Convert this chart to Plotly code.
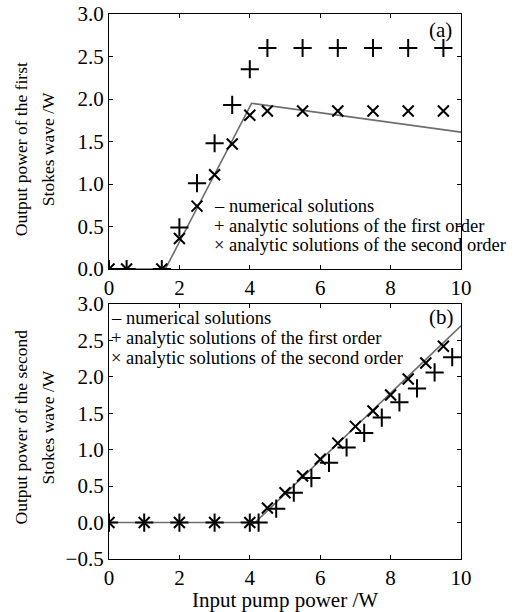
import plotly.graph_objects as go
from plotly.subplots import make_subplots

# Panel (a): first Stokes wave
a_num_x = [0, 1.6, 4.05, 10]
a_num_y = [0, 0, 1.95, 1.61]
a_first_x = [0, 0.5, 1.5, 2, 2.5, 3, 3.5, 4, 4.5, 5.5, 6.5, 7.5, 8.5, 9.5]
a_first_y = [0, 0, 0, 0.49, 1.01, 1.48, 1.93, 2.35, 2.6, 2.6, 2.6, 2.6, 2.6, 2.6]
a_second_x = [0, 0.5, 1.5, 2, 2.5, 3, 3.5, 4, 4.5, 5.5, 6.5, 7.5, 8.5, 9.5]
a_second_y = [0, 0, 0, 0.36, 0.74, 1.11, 1.47, 1.81, 1.86, 1.86, 1.86, 1.86, 1.86, 1.86]

# Panel (b): second Stokes wave
b_num_x = [0, 4.15, 10]
b_num_y = [0, 0, 2.70]
b_first_x = [0, 1, 2, 3, 4, 4.25, 4.75, 5.25, 5.75, 6.25, 6.75, 7.25, 7.75, 8.25, 8.75, 9.25, 9.75]
b_first_y = [0, 0, 0, 0, 0, 0, 0.19, 0.41, 0.61, 0.82, 1.03, 1.23, 1.44, 1.65, 1.84, 2.06, 2.27]
b_second_x = [0, 1, 2, 3, 4, 4.5, 5, 5.5, 6, 6.5, 7, 7.5, 8, 8.5, 9, 9.5]
b_second_y = [0, 0, 0, 0, 0, 0.2, 0.41, 0.64, 0.87, 1.09, 1.32, 1.53, 1.75, 1.97, 2.19, 2.42]

legend_lines = ["\u2013 numerical solutions",
                "+ analytic solutions of the first order",
                "\u00d7 analytic solutions of the second order"]
y_titles_a = ["Output power of the first", "Stokes wave /W"]
y_titles_b = ["Output power of the second", "Stokes wave /W"]
x_title = "Input pump power /W"

FONT = "Liberation Serif, Times New Roman, serif"

fig = make_subplots(rows=2, cols=1, vertical_spacing=0.064)

def add_panel(row, nx, ny, fx, fy, sx, sy):
    fig.add_trace(go.Scatter(x=nx, y=ny, mode="lines",
                             line=dict(color="#6e6e6e", width=1.6),
                             showlegend=False), row=row, col=1)
    fig.add_trace(go.Scatter(x=fx, y=fy, mode="markers",
                             marker=dict(symbol="cross-thin", size=13,
                                         line=dict(color="black", width=2)),
                             showlegend=False), row=row, col=1)
    fig.add_trace(go.Scatter(x=sx, y=sy, mode="markers",
                             marker=dict(symbol="x-thin", size=11,
                                         line=dict(color="black", width=2)),
                             showlegend=False), row=row, col=1)

add_panel(1, a_num_x, a_num_y, a_first_x, a_first_y, a_second_x, a_second_y)
add_panel(2, b_num_x, b_num_y, b_first_x, b_first_y, b_second_x, b_second_y)

axis_common = dict(showgrid=False, zeroline=False, showline=True, linecolor="black",
                   linewidth=1.3, mirror="ticks", ticks="inside", ticklen=4,
                   tickcolor="black", automargin=False, ticklabeloverflow="allow",
                   tickfont=dict(size=21, color="black", family=FONT))

fig.update_xaxes(range=[0, 10], tickvals=[0, 2, 4, 6, 8, 10], **axis_common)
fig.update_yaxes(tickformat=".1f", **axis_common)
fig.update_yaxes(range=[0, 3.0], tickvals=[0, 0.5, 1.0, 1.5, 2.0, 2.5, 3.0], row=1, col=1)
fig.update_yaxes(range=[-0.5, 3.0], tickvals=[-0.5, 0, 0.5, 1.0, 1.5, 2.0, 2.5, 3.0], row=2, col=1)

annotations = []
# y-axis titles (two lines each, placed separately)
for yref, yc, lines in [("y domain", 0.47, y_titles_a), ("y2 domain", 0.516, y_titles_b)]:
    for shift, t in zip([-88, -61], lines):
        annotations.append(dict(x=0, y=yc, xref="paper", yref=yref, text=t, textangle=-90,
                                showarrow=False, xanchor="center", yanchor="middle",
                                xshift=shift,
                                font=dict(size=17.5, family=FONT, color="black")))
# x-axis title
annotations.append(dict(x=0.5, y=0, xref="paper", yref="paper", text=x_title,
                        showarrow=False, xanchor="center", yanchor="middle", yshift=-41,
                        font=dict(size=21, family=FONT, color="black")))
# legend for (a)
for i, t in enumerate(legend_lines):
    annotations.append(dict(x=2.93, y=0.74 - i * 0.228, xref="x", yref="y", text=t,
                            showarrow=False, xanchor="left", yanchor="middle",
                            font=dict(size=18.5, family=FONT, color="black")))
# legend for (b)
for i, t in enumerate(legend_lines):
    annotations.append(dict(x=0.0, y=2.81 - i * 0.275, xref="x2", yref="y2", text=t,
                            showarrow=False, xanchor="left", yanchor="middle",
                            font=dict(size=18.5, family=FONT, color="black")))
annotations.append(dict(x=9.8, y=2.81, xref="x", yref="y", text="(a)", showarrow=False,
                        xanchor="right", yanchor="middle",
                        font=dict(size=21, family=FONT, color="black")))
annotations.append(dict(x=9.86, y=2.82, xref="x2", yref="y2", text="(b)", showarrow=False,
                        xanchor="right", yanchor="middle",
                        font=dict(size=21, family=FONT, color="black")))

fig.update_layout(width=522, height=612, template="none",
                  paper_bgcolor="white", plot_bgcolor="white",
                  margin=dict(l=109, r=61, t=14, b=53),
                  font=dict(family=FONT, color="black"),
                  annotations=annotations)

# remove the browser's default 8px body margin so the figure fills the window
fig.write_html("out.html", config={"displayModeBar": False},
               post_script="document.body.style.margin='0';document.body.style.overflow='hidden';")
